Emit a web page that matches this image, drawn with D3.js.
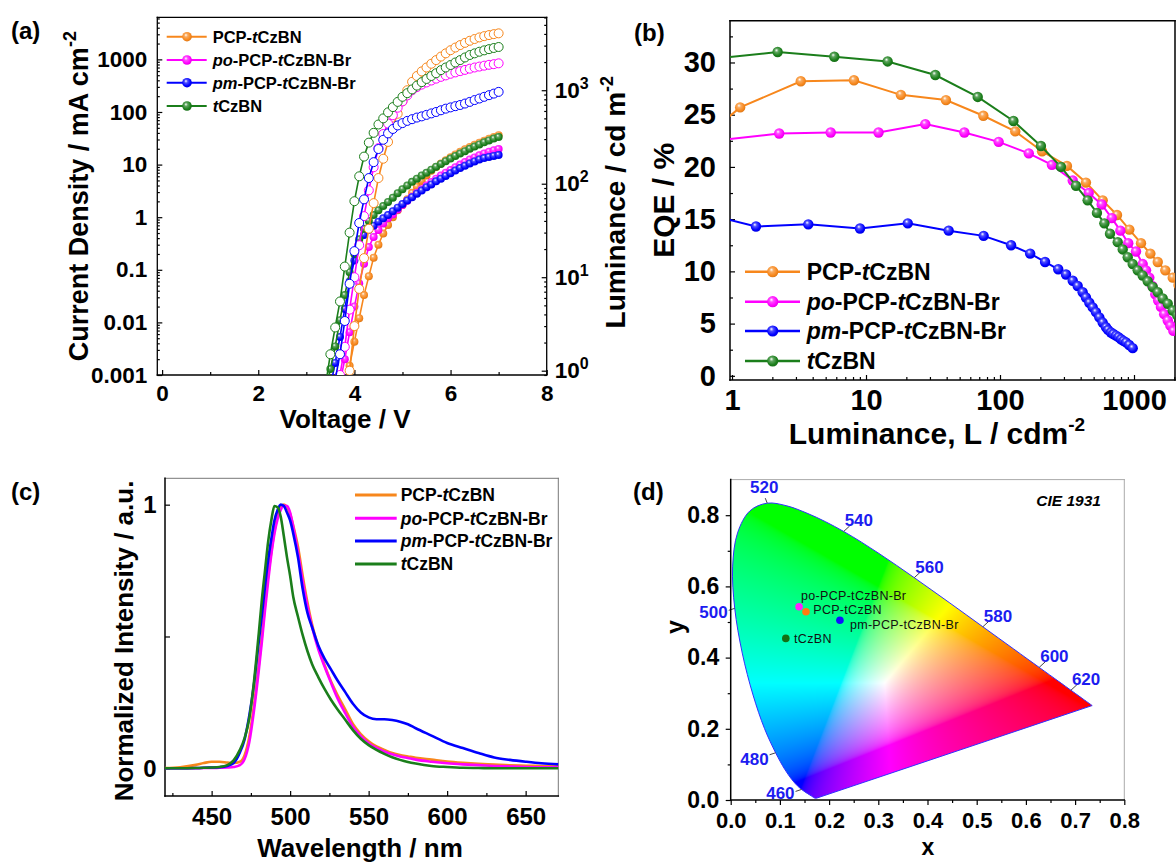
<!DOCTYPE html>
<html>
<head>
<meta charset="utf-8">
<title>PCP-tCzBN OLED characteristics</title>
<script src="https://cdn.jsdelivr.net/npm/d3@7/dist/d3.min.js"></script>
<style>
  html, body { margin: 0; padding: 0; background: #fff; }
  svg { display: block; }
</style>
</head>
<body>
<svg id="fig" width="1176" height="863"></svg>
<script>
// ---------------- shared ----------------
const names  = ["PCP-tCzBN", "po-PCP-tCzBN-Br", "pm-PCP-tCzBN-Br", "tCzBN"];
const colors = ["#F7871C", "#FF00FF", "#0000FF", "#1B7E1B"];

// ---------------- (a) J–V–L ----------------
const voltage = [3.4,3.5,3.6,3.7,3.8,3.9,4.0,4.1,4.2,4.3,4.4,4.5,4.6,4.7,4.8,4.9,5.0,5.1,5.2,5.3,5.4,5.5,5.6,5.7,5.8,5.9,6.0,6.1,6.2,6.3,6.4,6.5,6.6,6.7,6.8,6.9,7.0];
// current density, mA cm^-2
const jPCP = [null,null,null,null,0.0005,0.0015,0.0043,0.012,0.033,0.075,0.17,0.3,0.49,0.71,1.0,1.35,1.7,2.2,2.9,3.8,4.9,6.2,7.6,9.0,10.5,12.1,13.8,15.6,17.5,19.5,21.6,23.8,26.1,28.5,31.0,33.6,36.3];
const jPo  = [null,null,null,0.0007,0.002,0.0065,0.02,0.055,0.13,0.27,0.42,0.57,0.76,0.95,1.13,1.4,1.7,2.05,2.45,2.9,3.4,4.0,4.65,5.4,6.2,7.0,7.9,8.9,10.0,11.2,12.5,13.7,15.0,16.3,17.6,18.7,19.8];
const jPm  = [null,0.0006,0.0017,0.0053,0.018,0.06,0.15,0.3,0.46,0.58,0.69,0.82,0.95,1.1,1.3,1.52,1.78,2.08,2.4,2.8,3.2,3.7,4.2,4.8,5.4,6.1,6.85,7.7,8.6,9.5,10.5,11.5,12.5,13.3,14.0,14.6,15.2];
const jT   = [0.0005,0.0013,0.0035,0.011,0.033,0.09,0.2,0.38,0.6,0.85,1.1,1.35,1.63,1.95,2.35,2.85,3.4,4.0,4.7,5.4,6.2,7.0,8.0,9.1,10.3,11.6,13.0,14.6,16.2,18.0,20.0,22.0,24.2,26.5,28.8,31.2,33.5];
// luminance, cd m^-2
const lumPCP = [null,null,null,null,0.5,1.0,3.0,7.5,16,33,62,115,185,280,410,560,760,1000,1230,1420,1590,1750,1920,2100,2290,2480,2680,2860,3040,3210,3380,3530,3670,3790,3890,3980,4060];
const lumPo  = [null,null,null,0.9,1.8,4.5,10,22,45,85,150,240,340,440,540,650,760,880,1000,1080,1150,1210,1270,1330,1390,1440,1500,1550,1600,1650,1700,1750,1790,1830,1870,1900,1940];
const lumPm  = [null,null,0.8,1.5,3.4,8.5,19,38,68,115,170,235,295,345,385,420,445,470,490,510,525,545,565,585,610,635,655,675,695,720,750,785,815,850,885,920,960];
const lumT   = [0.7,1.5,2.9,5.5,13,30,65,120,195,275,350,430,500,580,660,750,850,930,1020,1120,1220,1320,1420,1520,1640,1750,1860,1980,2100,2240,2380,2480,2580,2670,2750,2830,2900];
const aVoltTicks = [0,2,4,6,8];
const aVoltMinor = [1,3,5,7];
const aJTicks  = [0.001,0.01,0.1,1,10,100,1000];
const aJLabels = ["0.001","0.01","0.1","1","10","100","1000"];
const aLumTicks = [1,10,100,1000];

// ---------------- (b) EQE–L ----------------
const eqeLumPCP = [0.85,1.15,3.26,8.13,18.2,39.5,75.1,130,206,316,438,584,747,923,1128,1324,1504,1713,1946,2150];
const eqePCP    = [24.3,25.7,28.2,28.3,26.9,26.4,24.9,23.4,21.5,20.1,18.5,16.8,15.4,14.0,12.7,11.7,10.9,10.1,9.4,8.7];
const eqeLumPo  = [0.85,2.25,5.45,12.4,27.7,54.2,97.7,164,244,349,459,574,682,791,906,1035,1161,1230,1301,1370,1442,1515,1589,1680,1786,1870,1968];
const eqePo     = [22.6,23.2,23.3,23.3,24.1,23.3,22.4,21.3,20.2,18.7,17.5,16.4,15.1,13.9,12.7,11.9,10.7,10.1,9.4,8.6,7.8,7.2,6.6,5.9,5.3,4.8,4.3];
const eqeLumPm  = [0.85,1.51,3.71,9.02,20.5,41.4,75.5,121,168,217,272,311,349,380,414,438,464,492,520,551,584,618,640,673,700,734,765,800,835,872,920,978];
const eqePm     = [15.1,14.3,14.5,14.1,14.6,13.9,13.4,12.5,11.7,10.9,10.2,9.7,9.1,8.6,8.0,7.5,7.0,6.55,6.1,5.6,5.1,4.65,4.4,4.15,4.0,3.85,3.7,3.5,3.35,3.2,2.95,2.65];
const eqeLumT   = [0.85,2.19,5.8,14.5,32.9,68.2,126,202,285,369,451,529,601,662,756,824,898,978,1066,1161,1266,1380,1504,1638,1786,1946,2100];
const eqeT      = [30.45,31.0,30.55,30.1,28.8,26.7,24.4,22.0,20.0,18.2,16.8,15.6,14.6,13.6,12.8,12.1,11.35,10.7,10.1,9.6,9.05,8.5,8.0,7.4,6.9,6.25,5.8];
const bEqeTicks = [0,5,10,15,20,25,30];
const bEqeMinor = [2.5,7.5,12.5,17.5,22.5,27.5,32.5];
const bLumTicks = [1,10,100,1000];

// ---------------- (c) EL spectra ----------------
const wavelength = [420,430,440,445,450,455,460,464,468,471,474,477,480,482,484,486,488,490,492,494,496,498,500,502,505,508,511,514,518,522,526,530,535,540,545,550,555,560,565,570,575,580,590,600,610,620,630,640,650,660,671];
const elPCP = [0.001,0.004,0.013,0.02,0.025,0.025,0.022,0.02,0.025,0.05,0.12,0.24,0.39,0.5,0.62,0.73,0.82,0.9,0.955,0.99,1.0,0.99,0.965,0.92,0.84,0.73,0.63,0.545,0.46,0.39,0.33,0.28,0.225,0.168,0.13,0.103,0.083,0.07,0.058,0.05,0.045,0.04,0.033,0.026,0.021,0.017,0.014,0.011,0.01,0.009,0.008];
const elPo  = [0,0,0,0.001,0.001,0.002,0.003,0.005,0.012,0.035,0.1,0.22,0.37,0.48,0.6,0.71,0.81,0.89,0.945,0.98,0.997,0.995,0.97,0.915,0.82,0.71,0.615,0.535,0.45,0.385,0.325,0.268,0.21,0.158,0.122,0.095,0.077,0.064,0.053,0.045,0.039,0.033,0.025,0.019,0.015,0.012,0.009,0.007,0.005,0.004,0.004];
const elPm  = [0,0,0.001,0.002,0.003,0.004,0.009,0.02,0.06,0.11,0.2,0.32,0.48,0.58,0.69,0.79,0.87,0.94,0.98,1.0,0.995,0.97,0.94,0.89,0.8,0.68,0.59,0.535,0.465,0.415,0.375,0.335,0.29,0.245,0.212,0.193,0.186,0.186,0.183,0.177,0.167,0.152,0.124,0.096,0.077,0.058,0.041,0.032,0.025,0.019,0.015];
const elT   = [0,0,0.001,0.002,0.003,0.005,0.012,0.03,0.07,0.115,0.19,0.33,0.51,0.64,0.75,0.86,0.94,0.995,0.99,0.955,0.88,0.8,0.73,0.65,0.575,0.505,0.445,0.395,0.345,0.3,0.26,0.225,0.185,0.145,0.112,0.088,0.07,0.055,0.042,0.032,0.024,0.018,0.009,0.005,0.002,0.001,0,0,0,0,0];
const cWlTicks = [450,500,550,600,650];
const cWlMinor = [425,475,525,575,625,675];
const cIntTicks = [0,1];
const cIntExtra = [0.5];

// ---------------- (d) CIE 1931 ----------------
const locusNm = [380,385,390,395,400,405,410,415,420,425,430,435,440,445,450,455,460,465,470,475,480,485,490,495,500,505,510,515,520,525,530,535,540,545,550,555,560,565,570,575,580,585,590,595,600,605,610,615,620,625,630,635,640,645,650,655,660,665,670,675,680,685,690,695,700];
const locusX = [0.1741,0.1740,0.1738,0.1736,0.1733,0.1730,0.1726,0.1721,0.1714,0.1703,0.1689,0.1669,0.1644,0.1611,0.1566,0.1510,0.1440,0.1355,0.1241,0.1096,0.0913,0.0687,0.0454,0.0235,0.0082,0.0039,0.0139,0.0389,0.0743,0.1142,0.1547,0.1929,0.2296,0.2658,0.3016,0.3373,0.3731,0.4087,0.4441,0.4788,0.5125,0.5448,0.5752,0.6029,0.6270,0.6482,0.6658,0.6801,0.6915,0.7006,0.7079,0.7140,0.7190,0.7230,0.7260,0.7283,0.7300,0.7311,0.7320,0.7327,0.7334,0.7340,0.7344,0.7346,0.7347];
const locusY = [0.0050,0.0050,0.0049,0.0049,0.0048,0.0048,0.0048,0.0048,0.0051,0.0058,0.0069,0.0086,0.0109,0.0138,0.0177,0.0227,0.0297,0.0399,0.0578,0.0868,0.1327,0.2007,0.2950,0.4127,0.5384,0.6548,0.7502,0.8120,0.8338,0.8262,0.8059,0.7816,0.7543,0.7243,0.6923,0.6589,0.6245,0.5896,0.5547,0.5202,0.4866,0.4544,0.4242,0.3965,0.3725,0.3514,0.3340,0.3197,0.3083,0.2993,0.2920,0.2859,0.2809,0.2770,0.2740,0.2717,0.2700,0.2689,0.2680,0.2673,0.2666,0.2660,0.2656,0.2654,0.2653];
const locusLabels = [460,480,500,520,540,560,580,600,620];
const cieX = [0.153, 0.139, 0.222, 0.112];
const cieY = [0.529, 0.543, 0.505, 0.454];
const dXTicks = [0,0.1,0.2,0.3,0.4,0.5,0.6,0.7,0.8];
const dXMinor = [0.05,0.15,0.25,0.35,0.45,0.55,0.65,0.75];
const dYTicks = [0,0.2,0.4,0.6,0.8];
const dYMinor = [0.1,0.3,0.5,0.7];

// ================= drawing =================
const FONT = "Arial, 'Liberation Sans', Helvetica, sans-serif";
const svg = d3.select("#fig").attr("font-family", FONT);
svg.append("rect").attr("width", 1176).attr("height", 863).attr("fill", "#fff");
const defs = svg.append("defs");

// glossy sphere fills for the symbols
colors.forEach((c, i) => {
  const g = defs.append("radialGradient").attr("id", "sph" + i)
    .attr("cx", 0.45).attr("cy", 0.42).attr("r", 0.6).attr("fx", 0.38).attr("fy", 0.32);
  g.append("stop").attr("offset", 0).attr("stop-color", "#ffffff");
  g.append("stop").attr("offset", 0.3).attr("stop-color", d3.interpolateRgb(c, "#ffffff")(0.3));
  g.append("stop").attr("offset", 0.75).attr("stop-color", c);
  g.append("stop").attr("offset", 1).attr("stop-color", d3.interpolateRgb(c, "#000000")(0.12));
});

function addClip(id, box) {
  defs.append("clipPath").attr("id", id).append("rect")
    .attr("x", box.l).attr("y", box.t).attr("width", box.r - box.l).attr("height", box.b - box.t);
}
function addAxis(parent, gen, tr, fs) {
  const g = parent.append("g");
  if (tr) g.attr("transform", tr);
  g.call(gen);
  g.select(".domain").remove();
  g.selectAll(".tick line").attr("stroke", "#000").attr("stroke-width", 1.2);
  g.selectAll(".tick text").attr("fill", "#000").attr("font-size", fs)
    .attr("font-weight", "bold").attr("font-family", FONT);
  return g;
}
function logMinors(dom) {
  const out = [];
  const lo = dom[0], hi = dom[1];
  for (let e = Math.floor(Math.log10(lo)); e <= Math.ceil(Math.log10(hi)); e++)
    for (let k = 2; k <= 9; k++) { const v = k * Math.pow(10, e); if (v > lo && v < hi) out.push(v); }
  return out;
}
function richName(sel, name) {
  name.split(/(po(?=-)|pm(?=-)|t(?=CzBN))/).filter(s => s.length).forEach(p => {
    const ts = sel.append("tspan").text(p);
    if (/^(po|pm|t)$/.test(p)) ts.attr("font-style", "italic");
  });
}
function frame(g, box, sides) {
  sides.forEach(s => {
    const [x1, y1, x2, y2] = {
      l: [box.l, box.t, box.l, box.b], r: [box.r, box.t, box.r, box.b],
      t: [box.l, box.t, box.r, box.t], b: [box.l, box.b, box.r, box.b]
    }[s.side];
    g.append("line").attr("x1", x1).attr("y1", y1).attr("x2", x2).attr("y2", y2)
      .attr("stroke", s.color).attr("stroke-width", s.w).attr("stroke-linecap", "square");
  });
}
function panelLabel(txt, x, y) {
  svg.append("text").attr("x", x).attr("y", y).attr("font-size", 24).attr("font-weight", "bold").text(txt);
}

// ---------- (a) ----------
(function () {
  const A = { l: 157.3, r: 546.7, t: 17.3, b: 375 };
  const x = d3.scaleLinear().domain([-0.1, 8]).range([A.l, A.r]);
  const yJ = d3.scaleLog().domain([1e-3, Math.pow(10, 3.8)]).range([A.b, A.t]);
  const yL = d3.scaleLog().domain([Math.pow(10, -0.046), Math.pow(10, 3.78)]).range([A.b, A.t]);
  addClip("clipA", A);
  const g = svg.append("g");

  addAxis(g, d3.axisBottom(x).tickValues(aVoltTicks).tickSize(-5).tickPadding(10).tickFormat(d3.format("d")), `translate(0,${A.b})`, 22.5);
  addAxis(g, d3.axisBottom(x).tickValues(aVoltMinor).tickSize(-3).tickFormat(""), `translate(0,${A.b})`, 1);
  addAxis(g, d3.axisLeft(yJ).tickValues(aJTicks).tickSize(-5).tickPadding(10).tickFormat((d, i) => aJLabels[i]), `translate(${A.l},0)`, 22.5);
  addAxis(g, d3.axisLeft(yJ).tickValues(logMinors(yJ.domain())).tickSize(-2.5).tickFormat(""), `translate(${A.l},0)`, 1);
  const rAx = addAxis(g, d3.axisRight(yL).tickValues(aLumTicks).tickSize(-5).tickPadding(8).tickFormat(""), `translate(${A.r},0)`, 22.5);
  rAx.selectAll(".tick text").each(function (d) {
    const t = d3.select(this);
    t.append("tspan").text("10");
    t.append("tspan").attr("font-size", 16).attr("dy", -9).text(Math.round(Math.log10(d)));
  });
  addAxis(g, d3.axisRight(yL).tickValues(logMinors(yL.domain())).tickSize(-2.5).tickFormat(""), `translate(${A.r},0)`, 1);
  frame(g, A, ["l", "r", "t", "b"].map(s => ({ side: s, color: "#000", w: 1.3 })));

  const plot = g.append("g").attr("clip-path", "url(#clipA)");
  const line = (sy) => d3.line().x(p => x(p[0])).y(p => sy(p[1]));
  const jSets = [jPCP, jPo, jPm, jT];
  const lSets = [lumPCP, lumPo, lumPm, lumT];
  jSets.forEach((arr, i) => {
    const pts = voltage.map((v, k) => [v, arr[k]]).filter(p => p[1] != null);
    plot.append("path").attr("d", line(yJ)(pts)).attr("fill", "none").attr("stroke", colors[i]).attr("stroke-width", 1.6);
    plot.append("g").selectAll("circle").data(pts).join("circle")
      .attr("cx", p => x(p[0])).attr("cy", p => yJ(p[1])).attr("r", 4).attr("fill", `url(#sph${i})`);
  });
  lSets.forEach((arr, i) => {
    const pts = voltage.map((v, k) => [v, arr[k]]).filter(p => p[1] != null);
    plot.append("path").attr("d", line(yL)(pts)).attr("fill", "none").attr("stroke", colors[i]).attr("stroke-width", 1.6);
    plot.append("g").selectAll("circle").data(pts).join("circle")
      .attr("cx", p => x(p[0])).attr("cy", p => yL(p[1])).attr("r", 4.5)
      .attr("fill", "#fff").attr("stroke", colors[i]).attr("stroke-width", 1);
  });

  // legend
  const rows = [36.7, 60, 82.7, 106];
  names.forEach((n, i) => {
    const lg = g.append("g");
    lg.append("line").attr("x1", 166.7).attr("x2", 206.7).attr("y1", rows[i]).attr("y2", rows[i])
      .attr("stroke", colors[i]).attr("stroke-width", 2);
    lg.append("circle").attr("cx", 187).attr("cy", rows[i]).attr("r", 4.8).attr("fill", `url(#sph${i})`);
    const t = lg.append("text").attr("x", 212.7).attr("y", rows[i] + 6).attr("font-size", 16.5).attr("font-weight", "bold");
    richName(t, n);
  });

  // titles
  const yt = g.append("text").attr("transform", `translate(88,${(A.t + A.b) / 2}) rotate(-90)`)
    .attr("text-anchor", "middle").attr("font-size", 27).attr("font-weight", "bold");
  yt.append("tspan").text("Current Density / mA cm");
  yt.append("tspan").attr("font-size", 18).attr("dy", -12).text("-2");
  const yr = g.append("text").attr("transform", `translate(625,${(A.t + A.b) / 2 + 6}) rotate(-90)`)
    .attr("text-anchor", "middle").attr("font-size", 28).attr("font-weight", "bold");
  yr.append("tspan").text("Luminance / cd m");
  yr.append("tspan").attr("font-size", 18).attr("dy", -12).text("-2");
  g.append("text").attr("x", 345).attr("y", 428).attr("text-anchor", "middle")
    .attr("font-size", 26).attr("font-weight", "bold").text("Voltage / V");
  panelLabel("(a)", 11, 39);
})();

// ---------- (b) ----------
(function () {
  const B = { l: 730, r: 1175, t: 20.7, b: 380 };
  const x = d3.scaleLog().domain([0.966, 2023]).range([B.l, B.r]);
  const y = d3.scaleLinear().domain([-0.4, 34]).range([B.b, B.t]);
  addClip("clipB", B);
  const g = svg.append("g");

  addAxis(g, d3.axisLeft(y).tickValues(bEqeTicks).tickSize(-5).tickPadding(14).tickFormat(d3.format("d")), `translate(${B.l},0)`, 29);
  addAxis(g, d3.axisLeft(y).tickValues(bEqeMinor).tickSize(-3).tickFormat(""), `translate(${B.l},0)`, 1);
  addAxis(g, d3.axisBottom(x).tickValues(bLumTicks).tickSize(-5).tickPadding(9.5).tickFormat(d3.format("d")), `translate(0,${B.b})`, 29);
  addAxis(g, d3.axisBottom(x).tickValues(logMinors(x.domain())).tickSize(-3).tickFormat(""), `translate(0,${B.b})`, 1);
  frame(g, B, ["l", "r", "t", "b"].map(s => ({ side: s, color: "#000", w: 1.5 })));

  const plot = g.append("g").attr("clip-path", "url(#clipB)");
  const sets = [[eqeLumPCP, eqePCP, 0], [eqeLumPo, eqePo, 1], [eqeLumPm, eqePm, 2], [eqeLumT, eqeT, 3]];
  sets.forEach(([L, E, i]) => {
    const pts = L.map((l, k) => [l, E[k]]);
    plot.append("path").attr("d", d3.line().x(p => x(p[0])).y(p => y(p[1]))(pts))
      .attr("fill", "none").attr("stroke", colors[i]).attr("stroke-width", 2);
    plot.append("g").selectAll("circle").data(pts).join("circle")
      .attr("cx", p => x(p[0])).attr("cy", p => y(p[1])).attr("r", 5.2).attr("fill", `url(#sph${i})`);
  });

  const rows = [271.7, 301.7, 331, 361];
  names.forEach((n, i) => {
    g.append("line").attr("x1", 745).attr("x2", 800).attr("y1", rows[i]).attr("y2", rows[i])
      .attr("stroke", colors[i]).attr("stroke-width", 2.5);
    g.append("circle").attr("cx", 772.7).attr("cy", rows[i]).attr("r", 5.6).attr("fill", `url(#sph${i})`);
    const t = g.append("text").attr("x", 806.7).attr("y", rows[i] + 8.3).attr("font-size", 23).attr("font-weight", "bold");
    richName(t, n);
  });

  g.append("text").attr("transform", `translate(674,${(B.t + B.b) / 2}) rotate(-90)`)
    .attr("text-anchor", "middle").attr("font-size", 30).attr("font-weight", "bold").text("EQE / %");
  const xt = g.append("text").attr("x", 937).attr("y", 444).attr("text-anchor", "middle")
    .attr("font-size", 30).attr("font-weight", "bold");
  xt.append("tspan").text("Luminance, L / cdm");
  xt.append("tspan").attr("font-size", 19).attr("dy", -13).text("-2");
  panelLabel("(b)", 634, 41);
})();

// ---------- (c) ----------
(function () {
  const C = { l: 165, r: 558.3, t: 478.3, b: 796 };
  const x = d3.scaleLinear().domain([420.3, 670.8]).range([C.l, C.r]);
  const y = d3.scaleLinear().domain([-0.105, 1.1]).range([C.b, C.t]);
  addClip("clipC", C);
  const g = svg.append("g");

  addAxis(g, d3.axisLeft(y).tickValues(cIntTicks).tickSize(-5).tickPadding(8.3).tickFormat(d3.format("d")), `translate(${C.l},0)`, 24);
  addAxis(g, d3.axisLeft(y).tickValues(cIntExtra).tickSize(-5).tickFormat(""), `translate(${C.l},0)`, 1);
  addAxis(g, d3.axisBottom(x).tickValues(cWlTicks).tickSize(-5).tickPadding(12).tickFormat(d3.format("d")), `translate(0,${C.b})`, 24);
  addAxis(g, d3.axisBottom(x).tickValues(cWlMinor.filter(v => v < 670.8)).tickSize(-3).tickFormat(""), `translate(0,${C.b})`, 1);
  frame(g, C, [{ side: "t", color: "#777", w: 1 }, { side: "r", color: "#777", w: 1 },
               { side: "l", color: "#000", w: 1.5 }, { side: "b", color: "#000", w: 1.5 }]);

  const plot = g.append("g").attr("clip-path", "url(#clipC)");
  [elPCP, elPo, elPm, elT].forEach((arr, i) => {
    const pts = wavelength.map((w, k) => [w, arr[k]]);
    plot.append("path").attr("d", d3.line().curve(d3.curveMonotoneX).x(p => x(p[0])).y(p => y(p[1]))(pts))
      .attr("fill", "none").attr("stroke", colors[i]).attr("stroke-width", 2.6).attr("stroke-linejoin", "round");
  });

  const rows = [495, 518.3, 541, 564];
  names.forEach((n, i) => {
    g.append("line").attr("x1", 355).attr("x2", 396.7).attr("y1", rows[i]).attr("y2", rows[i])
      .attr("stroke", colors[i]).attr("stroke-width", 3);
    const t = g.append("text").attr("x", 400.7).attr("y", rows[i] + 6.3).attr("font-size", 17.5).attr("font-weight", "bold");
    richName(t, n);
  });

  g.append("text").attr("transform", `translate(133,641) rotate(-90)`)
    .attr("text-anchor", "middle").attr("font-size", 26).attr("font-weight", "bold").text("Normalized Intensity / a.u.");
  g.append("text").attr("x", 360).attr("y", 857).attr("text-anchor", "middle")
    .attr("font-size", 26).attr("font-weight", "bold").text("Wavelength / nm");
  panelLabel("(c)", 11, 500);
})();

// ---------- (d) ----------
(function () {
  const D = { l: 730.7, r: 1124.3, t: 479.6, b: 800 };
  const x = d3.scaleLinear().domain([0, 0.8]).range([D.l, D.r]);
  const y = d3.scaleLinear().domain([0, 0.9]).range([D.b, D.t]);
  const g = svg.append("g");

  // chromaticity colour field
  const pw = Math.round(D.r - D.l), ph = Math.round(D.b - D.t);
  const cv = document.createElement("canvas");
  cv.width = pw; cv.height = ph;
  const ctx = cv.getContext("2d");
  const img = ctx.createImageData(pw, ph);
  const enc = c => c <= 0.0031308 ? 12.92 * c : 1.055 * Math.pow(c, 1 / 2.4) - 0.055;
  for (let j = 0; j < ph; j++) {
    const cyv = Math.max(y.invert(D.t + j + 0.5), 0.002);
    for (let i = 0; i < pw; i++) {
      const cxv = x.invert(D.l + i + 0.5);
      const X = cxv / cyv, Y = 1, Z = (1 - cxv - cyv) / cyv;
      let r = 3.2406 * X - 1.5372 * Y - 0.4986 * Z;
      let gg = -0.9689 * X + 1.8758 * Y + 0.0415 * Z;
      let b = 0.0557 * X - 0.2040 * Y + 1.0570 * Z;
      r = Math.max(r, 0); gg = Math.max(gg, 0); b = Math.max(b, 0);
      const m = Math.max(r, gg, b) || 1;
      const o = (j * pw + i) * 4;
      img.data[o] = Math.round(255 * enc(r / m));
      img.data[o + 1] = Math.round(255 * enc(gg / m));
      img.data[o + 2] = Math.round(255 * enc(b / m));
      img.data[o + 3] = 255;
    }
  }
  ctx.putImageData(img, 0, 0);

  // smooth spectral locus closed by the straight line of purples
  const locus = locusNm.map((n, k) => [locusX[k], locusY[k]]);
  const locusPath = d3.line().curve(d3.curveCatmullRom.alpha(0.5)).x(p => x(p[0])).y(p => y(p[1]))(locus) + "Z";
  defs.append("clipPath").attr("id", "clipCIE").append("path").attr("d", locusPath);
  g.append("image").attr("href", cv.toDataURL()).attr("x", D.l).attr("y", D.t)
    .attr("width", pw).attr("height", ph).attr("preserveAspectRatio", "none").attr("clip-path", "url(#clipCIE)");
  g.append("path").attr("d", locusPath).attr("fill", "none").attr("stroke", "#3030ff").attr("stroke-width", 1);

  // wavelength markers on the locus
  locusLabels.forEach(nm => {
    const k = locusNm.indexOf(nm);
    const px = x(locusX[k]), py = y(locusY[k]);
    let tx, ty, anchor, ex, ey;
    if (nm >= 540) { anchor = "start"; tx = px + 1; ty = py - 5; ex = px + 6; ey = py - 5.5; }
    else if (nm === 520) { anchor = "middle"; tx = px - 3; ty = py - 10; ex = px - 2; ey = py - 5; }
    else { anchor = "end"; tx = px - 7; ty = py + (nm === 480 ? 12 : 9.5); ex = px - 6; ey = py + 2; }
    g.append("line").attr("x1", px).attr("y1", py).attr("x2", ex).attr("y2", ey).attr("stroke", "#444").attr("stroke-width", 1);
    g.append("text").attr("x", tx).attr("y", ty).attr("text-anchor", anchor).attr("font-size", 17)
      .attr("font-weight", "bold").attr("fill", "#1c1cf0").text(nm);
  });

  // device colour coordinates
  const dotColors = ["#FF7A10", "#FF22FF", "#1010FF", "#147014"];
  const labelShift = [[7.3, 2.3], [2, -6.7], [10, 8.3], [8.3, 4.4]];
  cieX.forEach((cx, i) => {
    const px = x(cx), py = y(cieY[i]);
    g.append("circle").attr("cx", px).attr("cy", py).attr("r", 3.8).attr("fill", dotColors[i]);
    g.append("text").attr("x", px + labelShift[i][0]).attr("y", py + labelShift[i][1])
      .attr("font-size", 12.5).attr("fill", "#111").attr("letter-spacing", 0.3).text(names[i]);
  });

  addAxis(g, d3.axisLeft(y).tickValues(dYTicks).tickSize(5).tickPadding(6.4).tickFormat(d3.format(".1f")), `translate(${D.l},0)`, 23);
  addAxis(g, d3.axisLeft(y).tickValues(dYMinor).tickSize(3).tickFormat(""), `translate(${D.l},0)`, 1);
  addAxis(g, d3.axisBottom(x).tickValues(dXTicks).tickSize(5).tickPadding(7.7).tickFormat(d3.format(".1f")), `translate(0,${D.b})`, 22);
  addAxis(g, d3.axisBottom(x).tickValues(dXMinor).tickSize(3).tickFormat(""), `translate(0,${D.b})`, 1);
  frame(g, D, [{ side: "t", color: "#aaa", w: 1 }, { side: "r", color: "#aaa", w: 1 },
               { side: "l", color: "#000", w: 1.5 }, { side: "b", color: "#000", w: 1.5 }]);

  g.append("text").attr("x", 1101).attr("y", 505.5).attr("text-anchor", "end").attr("font-size", 15.5)
    .attr("font-weight", "bold").attr("font-style", "italic").text("CIE 1931");
  g.append("text").attr("transform", `translate(684,627) rotate(-90)`).attr("text-anchor", "middle")
    .attr("font-size", 25).attr("font-weight", "bold").text("y");
  g.append("text").attr("x", 928).attr("y", 855).attr("text-anchor", "middle")
    .attr("font-size", 23).attr("font-weight", "bold").text("x");
  panelLabel("(d)", 633, 500);
})();
</script>
</body>
</html>
